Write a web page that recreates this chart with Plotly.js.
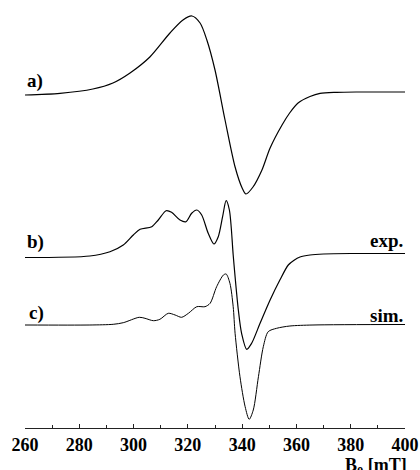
<!DOCTYPE html>
<html>
<head>
<meta charset="utf-8">
<script src="https://cdn.plot.ly/plotly-3.0.1.min.js"></script>
<style>
  html, body { margin: 0; padding: 0; background: #fff; }
  #chart { width: 420px; height: 470px; }
</style>
</head>
<body>
<div id="chart"></div>
<script>
// Field axis (mT) and intensities (arbitrary units) of the three EPR spectra.
const fieldA = [260, 272.9, 285, 292.4, 298.7, 306, 313.4, 318.2, 321.5, 324.5, 327, 330,
                333.7, 337.4, 340, 341.4, 344, 347.3, 350.3, 354.7, 357.5, 360.6, 365, 368.7,
                374.8, 382, 390, 400];
const intensityA = [-1, 0.7, 5, 11, 21, 37, 61, 74, 78, 71, 54, 24,
                    -26, -73, -94, -100, -93, -76, -54, -31, -19, -9, -2.5, 0.7,
                    1.7, 2, 2, 2];

const fieldB = [260, 283.9, 291.3, 296.2, 299.9, 302.4, 306.7, 309.1, 312, 314, 317.1, 319.3,
                321.4, 323.3, 325.1, 327.5, 329.6, 331.2, 332.8, 334.1, 335.3, 336.7, 337.4,
                338.6, 339.8, 341.7, 343.5, 346.6, 350.3, 353.9, 357, 359, 361.3, 365, 370,
                380, 400];
const intensityB = [-1.5, 0, 4.3, 11, 21, 26.7, 29.3, 36, 45.3, 43.7, 36, 34.3,
                    42.7, 46, 41, 22.7, 12, 19.3, 39.3, 55.3, 46, 1, -20.7,
                    -54, -77.3, -93.3, -87.3, -67.3, -44, -24, -9, -4.5, -1, 1, 2,
                    2.5, 2.5];

const fieldC = [260, 283.9, 292.5, 296.2, 302.1, 304.2, 307.3, 309.7, 312.8, 315.3, 317.7, 320.2,
                323.3, 326.3, 328.2, 330.6, 333.1, 334.1, 335.5, 336.7, 337.4, 339.2, 341.1,
                342.6, 344.1, 346, 347.8, 349.6, 352.7, 357.6, 366.1, 400];
const intensityC = [0, 0, 0.7, 2.3, 7.7, 6.7, 4.3, 5.7, 11.7, 10, 7.7, 11.7,
                    18.3, 18.3, 21.7, 38.3, 50, 51, 41.7, 18.3, -8.3, -51.7, -81.7,
                    -94.3, -85, -51.7, -21.7, -6.7, -3.3, -1, 0, 0.5];

// Vertical stacking offsets for the three spectra
const offsetA = 334, offsetB = 172, offsetC = 103;

const xTicks = [260, 280, 300, 320, 340, 360, 380, 400];

const shift = (vals, off) => vals.map(v => v + off);
const serif = 'Liberation Serif, Times New Roman, serif';

function spectrum(x, y, width) {
  return { x: x, y: y, mode: 'lines', hoverinfo: 'skip', showlegend: false,
           line: { shape: 'spline', smoothing: 0.8, color: '#000', width: width } };
}

const traces = [
  spectrum(fieldA, shift(intensityA, offsetA), 1.2),
  spectrum(fieldB, shift(intensityB, offsetB), 1.2),
  spectrum(fieldC, shift(intensityC, offsetC), 1)
];

const labelFont = { family: serif, size: 19, color: '#000', weight: 'bold' };

function label(text, x, y, anchor) {
  return { text: text, x: x, y: y, xref: 'x', yref: 'y', showarrow: false,
           xanchor: anchor, yanchor: 'middle', font: labelFont };
}

const layout = {
  width: 420, height: 470,
  margin: { l: 25, r: 15, t: 0, b: 42 },
  paper_bgcolor: '#fff', plot_bgcolor: '#fff',
  xaxis: {
    range: [260, 400], tickvals: xTicks, ticktext: xTicks.map(String),
    showline: true, linecolor: '#222', linewidth: 1, mirror: false,
    ticks: 'inside', ticklen: 4, tickcolor: '#222', tickwidth: 1,
    minor: { dtick: 10, tick0: 260, ticks: 'inside', ticklen: 3, tickcolor: '#222' },
    showgrid: false, zeroline: false, fixedrange: true,
    tickfont: { family: serif, size: 18, color: '#000', weight: 'bold' }
  },
  yaxis: { range: [0, 428], visible: false, fixedrange: true },
  annotations: [
    label('a)', 260, 347, 'left'),
    label('b)', 260, 186, 'left'),
    label('exp.', 400, 188, 'right'),
    label('c)', 260.6, 115, 'left'),
    label('sim.', 400, 113, 'right'),
    { text: 'B<sub>0</sub> [mT]', xref: 'paper', yref: 'paper', x: 1.01, y: 0,
      xanchor: 'right', yanchor: 'top', yshift: -25, showarrow: false,
      font: { family: serif, size: 18, color: '#000', weight: 'bold' } }
  ]
};

Plotly.newPlot('chart', traces, layout, { staticPlot: true, displayModeBar: false });
</script>
</body>
</html>
